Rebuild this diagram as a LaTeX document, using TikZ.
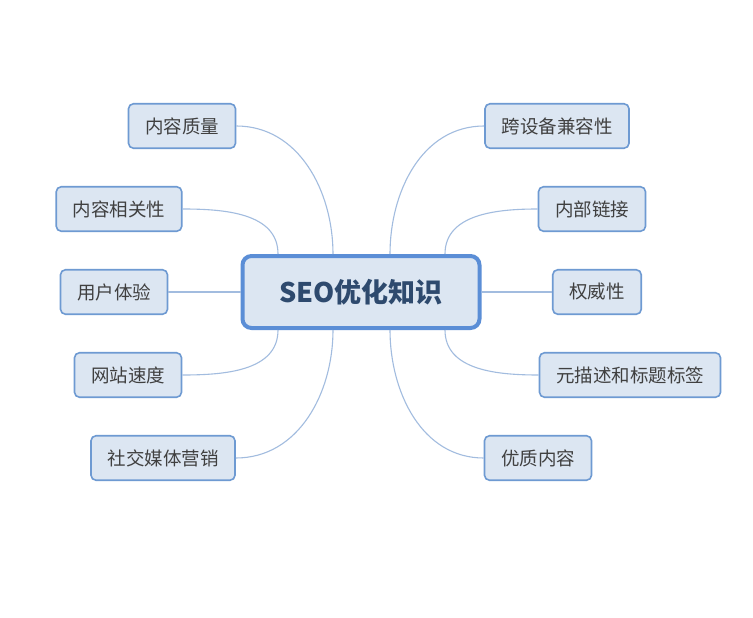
\documentclass[tikz,border=0pt]{standalone}
\usepackage{fontspec}
\setmainfont{Noto Sans CJK SC}
\begin{document}
\begin{tikzpicture}[x=1pt, y=-1pt,
  leaf/.style={draw=leafblue, line width=1.6pt, fill=boxfill, rounded corners=5pt,
    inner xsep=16.5pt, minimum height=44.5pt, text=txtgray, font=\fontsize{18.5}{22}\selectfont},
  hub/.style={draw=hubblue, line width=4pt, fill=boxfill, rounded corners=9pt,
    minimum width=237pt, minimum height=72pt, text=hubtext, font=\fontsize{27}{32}\selectfont\bfseries},
  link/.style={linkblue, line width=1.1pt}]
  \definecolor{leafblue}{HTML}{6E9AD2}
  \definecolor{hubblue}{HTML}{5B8ED6}
  \definecolor{boxfill}{HTML}{DCE6F2}
  \definecolor{linkblue}{HTML}{A2BCDF}
  \definecolor{txtgray}{HTML}{404040}
  \definecolor{hubtext}{HTML}{2E4A6E}
  \useasboundingbox[fill=white] (0,0) rectangle (753,618);
  \node[hub] (hub) at (361,292) {SEO优化知识};
  \foreach \n/\x/\y/\t in {l1/182/126/内容质量, l2/119/209/内容相关性, l3/114/292/用户体验,
      l4/128/375/网站速度, l5/163/458/社交媒体营销, r1/557/126/跨设备兼容性, r2/592/209/内部链接,
      r3/597/292/权威性, r4/630/375/元描述和标题标签, r5/538/458/优质内容}
    \node[leaf] (\n) at (\x,\y) {\t};
  \foreach \n/\dx in {l1/-28, l2/-83} \draw[link] (\n.east) to[out=0, in=90] ([xshift=\dx pt]hub.north);
  \foreach \n/\dx in {l4/-83, l5/-28} \draw[link] (\n.east) to[out=0, in=-90] ([xshift=\dx pt]hub.south);
  \foreach \n/\dx in {r1/29, r2/84} \draw[link] (\n.west) to[out=180, in=90] ([xshift=\dx pt]hub.north);
  \foreach \n/\dx in {r4/84, r5/29} \draw[link] (\n.west) to[out=180, in=-90] ([xshift=\dx pt]hub.south);
  \draw[link] (l3.east) -- (hub.west);
  \draw[link] (hub.east) -- (r3.west);
\end{tikzpicture}
\end{document}
